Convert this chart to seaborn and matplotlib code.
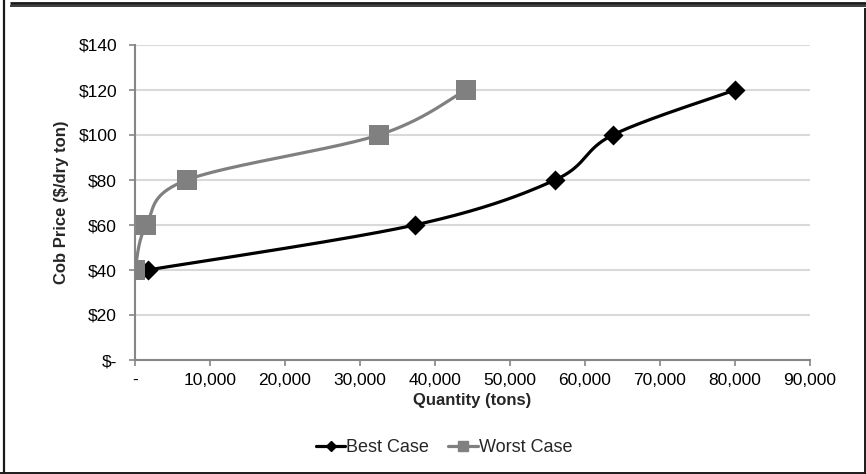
import numpy as np
import pandas as pd
import matplotlib
matplotlib.use("Agg")
import matplotlib.pyplot as plt
from matplotlib.lines import Line2D
from matplotlib.ticker import FuncFormatter
import seaborn as sns

# ---- data ----
best_qty = [1700, 37300, 56000, 63700, 80000]
best_price = [40, 60, 80, 100, 120]
worst_qty = [0, 1500, 6900, 32500, 44100]
worst_price = [40, 60, 80, 100, 120]
series_names = ["Best Case", "Worst Case"]
x_ticks = [0, 10000, 20000, 30000, 40000, 50000, 60000, 70000, 80000, 90000]
y_ticks = [0, 20, 40, 60, 80, 100, 120, 140]

BLACK = "#000000"
GRAY = "#808080"


def smooth(xs, ys, n=60):
    """Excel-like smoothed line (Catmull-Rom / Bezier with 1/6 tension)."""
    P = np.column_stack([xs, ys]).astype(float)
    P = np.vstack([P[0], P, P[-1]])
    out = []
    t = np.linspace(0, 1, n)
    for i in range(1, len(P) - 2):
        p0, p1, p2, p3 = P[i - 1], P[i], P[i + 1], P[i + 2]
        c1 = p1 + (p2 - p0) / 6.0
        c2 = p2 - (p3 - p1) / 6.0
        seg = ((1 - t) ** 3)[:, None] * p1 + (3 * (1 - t) ** 2 * t)[:, None] * c1 \
            + (3 * (1 - t) * t ** 2)[:, None] * c2 + (t ** 3)[:, None] * p2
        out.append(seg if i == 1 else seg[1:])
    arr = np.vstack(out)
    return arr[:, 0], arr[:, 1]


sns.set_theme(style="white")
plt.rcParams["font.family"] = ["Liberation Sans", "DejaVu Sans"]

fig = plt.figure(figsize=(8.66, 4.74), dpi=100)
ax = fig.add_axes([135 / 866, 1 - 360 / 474, 675 / 866, 315 / 474])

bx, by = smooth(best_qty, best_price)
wx, wy = smooth(worst_qty, worst_price)

sns.lineplot(x=bx, y=by, sort=False, estimator=None, color=BLACK, linewidth=2.3, ax=ax, zorder=3)
sns.lineplot(x=wx, y=wy, sort=False, estimator=None, color=GRAY, linewidth=2.3, ax=ax, zorder=4)
sns.scatterplot(x=best_qty, y=best_price, marker="D", s=10.2 ** 2, color=BLACK,
                edgecolor=BLACK, linewidth=0, ax=ax, zorder=5)
sns.scatterplot(x=worst_qty, y=worst_price, marker="s", s=14.4 ** 2, color=GRAY,
                edgecolor=GRAY, linewidth=0, ax=ax, zorder=6)

ax.set_xlim(0, 90000)
ax.set_ylim(0, 140)
ax.set_xticks(x_ticks)
ax.set_yticks(y_ticks)
ax.xaxis.set_major_formatter(FuncFormatter(lambda v, p: "-" if v == 0 else f"{int(v):,}"))
ax.yaxis.set_major_formatter(FuncFormatter(lambda v, p: "$-" if v == 0 else f"${int(v)}"))
ax.tick_params(axis="both", labelsize=12.5, colors="#000000", length=4, width=1.2,
               direction="out", left=True, bottom=True, color="#868686")
ax.tick_params(axis="x", pad=5.5)
ax.tick_params(axis="y", pad=9)
ax.grid(axis="y", color="#d9d9d9", linewidth=1.5)
ax.grid(axis="x", visible=False)
ax.set_axisbelow(True)
for s in ["top", "right"]:
    ax.spines[s].set_visible(False)
for s in ["left", "bottom"]:
    ax.spines[s].set_color("#868686")
    ax.spines[s].set_linewidth(1.5)

ax.set_xlabel("Quantity (tons)", fontsize=12, fontweight="bold", labelpad=3.7)
ax.set_ylabel("Cob Price ($/dry ton)", fontsize=12, fontweight="bold", labelpad=7)

handles = [
    Line2D([], [], color=BLACK, lw=2.3, marker="D", markersize=5.5),
    Line2D([], [], color=GRAY, lw=2.3, marker="s", markersize=6.5),
]
fig.legend(handles, series_names, loc="center", bbox_to_anchor=(444 / 866, 1 - 448 / 474),
           ncol=2, frameon=False, fontsize=13, handlelength=1.65, handletextpad=0.05,
           columnspacing=1.05)

# ---- frame ----
def fl(x0, y0, x1, y1, lw, color="#1a1a1a"):
    fig.add_artist(Line2D([x0 / 866, x1 / 866], [1 - y0 / 474, 1 - y1 / 474],
                          transform=fig.transFigure, color=color, lw=lw,
                          solid_capstyle="butt"))

fl(4, 0, 4, 474, 1.6)
fl(10, 2.5, 866, 2.5, 2.0)
fl(10, 5.8, 866, 5.8, 1.2)
fl(0, 472.5, 866, 472.5, 1.4)
fl(864.5, 8, 864.5, 474, 1.4)

fig.savefig("out.png", dpi=100)
